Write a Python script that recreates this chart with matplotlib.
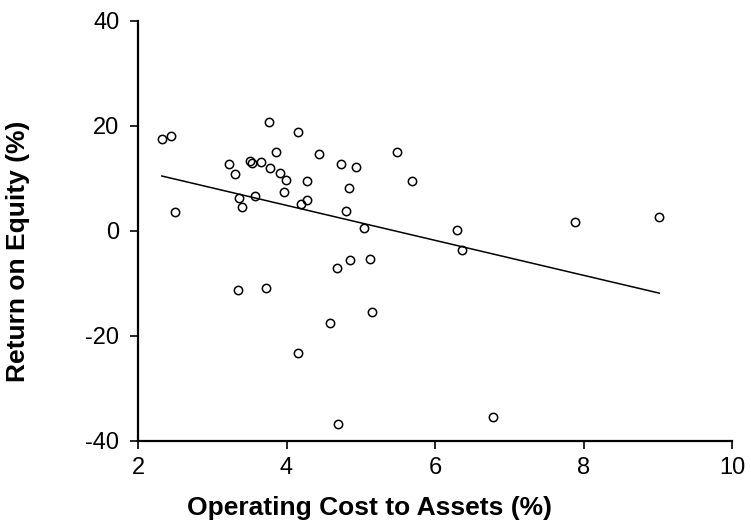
import numpy as np
import matplotlib
matplotlib.use("Agg")
import matplotlib.pyplot as plt

# operating cost / assets (%) vs return on equity (%)
op_cost = [2.32, 2.45, 2.50, 3.23, 3.31, 3.36, 3.40, 3.35, 3.51, 3.54,
           3.58, 3.66, 3.77, 3.78, 3.86, 3.91, 3.99, 3.96, 3.73, 4.16,
           4.20, 4.28, 4.27, 4.15, 4.44, 4.73, 4.94, 4.84, 4.80, 5.05,
           4.68, 4.86, 5.13, 5.15, 4.58, 4.69, 5.49, 5.69, 6.30, 6.36,
           6.78, 7.88, 9.02]
roe = [17.6, 18.0, 3.6, 12.7, 10.8, 6.3, 4.5, -11.2, 13.3, 13.0,
       6.6, 13.2, 20.7, 12.0, 15.1, 11.1, 9.8, 7.4, -10.9, 18.8,
       5.2, 5.9, 9.5, -23.3, 14.7, 12.7, 12.2, 8.1, 3.9, 0.6,
       -7.0, -5.5, -5.4, -15.4, -17.5, -36.8, 15.1, 9.5, 0.1, -3.6,
       -35.4, 1.7, 2.7]

# fitted line: roe = a + b * op_cost
fit_a = 18.2
fit_b = -3.33
fit_range = [2.32, 9.02]

x_ticks = [2, 4, 6, 8, 10]
y_ticks = [-40, -20, 0, 20, 40]

plt.rcParams['font.family'] = ['Liberation Sans', 'DejaVu Sans']
plt.rcParams['axes.unicode_minus'] = False

fig = plt.figure(figsize=(7.51, 5.26), dpi=100)
ax = fig.add_axes([0.1838, 0.1616, 0.7909, 0.7985])

ax.plot(op_cost, roe, 'o', mfc='none', mec='black', ms=6, mew=1.1)
fx = np.array(fit_range)
ax.plot(fx, fit_a + fit_b * fx, color='black', lw=1.1)

ax.set_xlim(2, 10)
ax.set_ylim(-40, 40)
ax.set_xticks(x_ticks)
ax.set_yticks(y_ticks)
ax.tick_params(direction='out', length=5.5, width=1.2, labelsize=17)
ax.tick_params(axis='x', pad=6)
ax.tick_params(axis='y', pad=8)
for s in ['top', 'right']:
    ax.spines[s].set_visible(False)
for s in ['left', 'bottom']:
    ax.spines[s].set_linewidth(1.6)

ax.set_xlabel('Operating Cost to Assets (%)', fontsize=19, fontweight='bold',
              va='center')
ax.xaxis.set_label_coords(0.39, -0.16)
ax.set_ylabel('Return on Equity (%)', fontsize=19, fontweight='bold',
              va='center')
ax.yaxis.set_label_coords(-0.202, 0.452)

fig.savefig('out.png', dpi=100)
